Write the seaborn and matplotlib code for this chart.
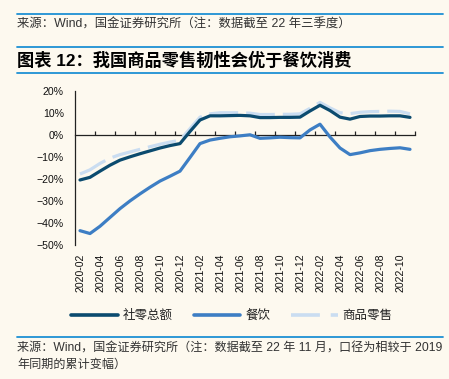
import numpy as np
import pandas as pd
import matplotlib
matplotlib.use("Agg")
import matplotlib.pyplot as plt
from matplotlib.lines import Line2D
import seaborn as sns

# ---------------- data ----------------
months = [f"{y}-{m:02d}" for y in (2020, 2021, 2022) for m in range(1, 13)]
months = months[1:-1]  # 2020-02 ... 2022-11

retail_total = [-20.5, -19.3, -16.5, -13.8, -11.5, -10.0, -8.6, -7.3, -6.0, -4.9, -4.0,
                1.5, 6.7, 8.6, 8.6, 8.7, 8.8, 8.6, 7.8, 7.8, 7.9, 7.9, 8.0,
                10.8, 13.4, 11.0, 8.0, 7.1, 8.3, 8.5, 8.5, 8.6, 8.6, 7.9]
catering = [-43.5, -44.8, -41.5, -37.5, -33.5, -30.0, -26.8, -23.8, -21.0, -18.8, -16.5,
            -10.3, -4.0, -2.4, -1.6, -0.9, -0.5, 0.0, -1.6, -1.4, -1.1, -1.3, -1.4,
            2.2, 4.8, -1.0, -6.0, -9.0, -8.2, -7.2, -6.6, -6.2, -5.9, -6.6]
goods = [-17.8, -15.9, -13.0, -10.6, -9.0, -7.8, -6.6, -5.4, -4.3, -3.3, -2.5,
         2.8, 8.0, 9.5, 10.0, 10.0, 10.0, 9.8, 9.2, 9.2, 9.3, 9.3, 9.5,
         12.0, 14.7, 12.2, 10.0, 9.6, 10.2, 10.5, 10.6, 10.7, 10.6, 9.5]
series_names = ["社零总额", "餐饮", "商品零售"]
yticks = [20, 10, 0, -10, -20, -30, -40, -50]

# ---------------- style ----------------
BG = "#FDF9EF"
C_DARK = "#0B4B6F"
C_MID = "#3D7EC4"
C_LIGHT = "#CADDF1"
C_RULE = "#1E90D4"

sns.set_theme(style="white")
plt.rcParams["font.family"] = ["Liberation Sans", "Noto Sans CJK SC", "DejaVu Sans"]
plt.rcParams["axes.unicode_minus"] = True

fig = plt.figure(figsize=(4.49, 3.79), dpi=100, facecolor=BG)
ax = fig.add_axes([75 / 449, 1 - 245 / 379, 340 / 449, (245 - 90.7) / 379])
ax.set_facecolor(BG)

pos = np.arange(len(months))
df = pd.DataFrame({"pos": pos, "month": months,
                   series_names[0]: retail_total,
                   series_names[1]: catering,
                   series_names[2]: goods})

sns.lineplot(data=df, x="pos", y=series_names[2], ax=ax, color=C_LIGHT,
             linewidth=2.3, zorder=2)
ax.lines[-1].set_dashes((9, 2.5))
sns.lineplot(data=df, x="pos", y=series_names[1], ax=ax, color=C_MID,
             linewidth=2.3, zorder=3)
sns.lineplot(data=df, x="pos", y=series_names[0], ax=ax, color=C_DARK,
             linewidth=2.3, zorder=4)

ax.set_xlim(-0.5, len(months) - 0.5)
ax.set_ylim(-50, 20)
ax.set_xlabel("")
ax.set_ylabel("")

for s in ("top", "right", "bottom"):
    ax.spines[s].set_visible(False)
ax.spines["left"].set_color("#222222")
ax.spines["left"].set_linewidth(0.9)

ax.set_yticks(yticks)
ax.set_yticklabels([f"{v}%".replace("-", "\u2212") for v in yticks])
ax.tick_params(axis="y", direction="in", length=3.5, width=0.9, color="#222222",
               pad=8, labelsize=7.6, labelcolor="#111111")

ax.set_xticks(pos[::2])
ax.set_xticklabels(months[::2], rotation=90, va="top", ha="center")
ax.tick_params(axis="x", length=0, pad=6, labelsize=7.6, labelcolor="#111111")

# zero axis line with tick marks at category boundaries
ax2 = ax.twiny()
ax2.set_xlim(ax.get_xlim())
ax2.set_facecolor("none")
for s in ("left", "right", "bottom"):
    ax2.spines[s].set_visible(False)
ax2.spines["top"].set_position(("data", 0))
ax2.spines["top"].set_color("#222222")
ax2.spines["top"].set_linewidth(0.9)
ax2.set_xticks(np.arange(1.5, len(months), 2))
ax2.tick_params(axis="x", direction="out", length=3, width=0.9, color="#222222",
                labeltop=False, labelbottom=False)
ax2.set_zorder(ax.get_zorder() - 1)
ax.patch.set_visible(False)
fig.patch.set_facecolor(BG)

# legend
handles = [Line2D([], [], color=C_DARK, lw=2.6),
           Line2D([], [], color=C_MID, lw=2.6),
           Line2D([], [], color=C_LIGHT, lw=2.6, dashes=(8, 3))]
leg = fig.legend(handles, series_names, loc="center", ncol=3,
                 bbox_to_anchor=(232 / 449, 1 - 316 / 379), frameon=False,
                 fontsize=9, handlelength=3.7, handletextpad=0.4,
                 columnspacing=1.7)
for t in leg.get_texts():
    t.set_color("#222222")

# rules
for yy in (14, 47, 73, 337):
    fig.add_artist(Line2D([17 / 449, 443 / 449], [1 - yy / 379, 1 - yy / 379],
                          transform=fig.transFigure, color=C_RULE, lw=1.3))

fig.text(17 / 449, 1 - 25 / 379, "来源：Wind，国金证券研究所（注：数据截至 22 年三季度）",
         fontsize=8.9, color="#333333", va="center", ha="left")
fig.text(17 / 449, 1 - 60 / 379, "图表 12：我国商品零售韧性会优于餐饮消费",
         fontsize=12.4, fontweight="bold", color="#000000", va="center", ha="left")
fig.text(17 / 449, 1 - 349 / 379,
         "来源：Wind，国金证券研究所（注：数据截至 22 年 11 月，口径为相较于 2019",
         fontsize=8.7, color="#333333", va="center", ha="left")
fig.text(17 / 449, 1 - 365 / 379, "年同期的累计变幅）",
         fontsize=8.7, color="#333333", va="center", ha="left")

fig.savefig("out.png", dpi=100, facecolor=BG)
